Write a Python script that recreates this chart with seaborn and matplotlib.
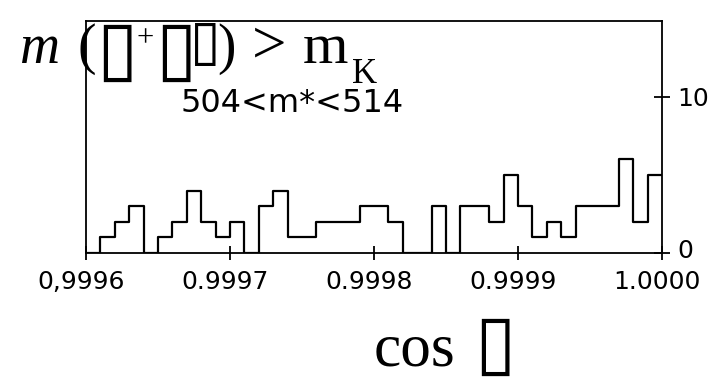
import numpy as np
import pandas as pd
import matplotlib
matplotlib.use("Agg")
import matplotlib.pyplot as plt
import seaborn as sns
from matplotlib.transforms import ScaledTranslation

# ---------------- data ----------------
counts = [0, 1, 2, 3, 0, 1, 2, 4, 2, 1,
          2, 0, 3, 4, 1, 1, 2, 2, 2, 3,
          3, 2, 0, 0, 3, 0, 3, 3, 2, 5,
          3, 1, 2, 1, 3, 3, 3, 6, 2, 5]
x_lo, x_hi = 0.9996, 1.0000
n_bins = 40
x_ticks = [0.9996, 0.9997, 0.9998, 0.9999, 1.0000]
x_tick_labels = ["0,9996", "0.9997", "0.9998", "0.9999", "1.0000"]
y_ticks = [0, 10]
y_tick_labels = ["0", "10"]
y_top = 14.87
cut_label = "504<m*<514"
# the reference shows empty boxes in place of these symbols
box = "\u25AF"

edges = np.linspace(x_lo, x_hi, n_bins + 1)
centers = (edges[:-1] + edges[1:]) / 2
df = pd.DataFrame({"cos": centers, "n": counts})

sns.set_theme(style="white")
plt.rcParams["font.family"] = ["DejaVu Sans"]
plt.rcParams["text.color"] = "black"

W, H = 719, 382
fig = plt.figure(figsize=(W / 100, H / 100), dpi=100)
fig.patch.set_facecolor("white")

def fx(x):
    return x / W

def fy(y):
    return 1 - y / H

ax = fig.add_axes([fx(86), fy(253), (662 - 86) / W, (253 - 21) / H])
sns.histplot(data=df, x="cos", weights="n", bins=n_bins, binrange=(x_lo, x_hi),
             element="step", fill=False, color="black", linewidth=1.6, ax=ax)
ax.set_xlim(x_lo, x_hi)
ax.set_ylim(0, y_top)
ax.set_xlabel("")
ax.set_ylabel("")
for s in ax.spines.values():
    s.set_visible(True)
    s.set_color("black")
    s.set_linewidth(1.3)

ax.set_xticks(x_ticks, x_tick_labels)
ax.tick_params(axis="x", direction="inout", length=10, width=1.3,
               labelsize=18, pad=7, colors="black", bottom=True)
for lab in ax.get_xticklabels():
    lab.set_transform(lab.get_transform() + ScaledTranslation(-5 / 100, 0, fig.dpi_scale_trans))

ax.yaxis.tick_right()
ax.set_yticks(y_ticks, y_tick_labels)
ax.tick_params(axis="y", direction="inout", length=12, width=1.3,
               labelsize=18, pad=5, colors="black", left=False, right=True)
for lab in ax.get_yticklabels():
    if lab.get_text() == "0":
        lab.set_transform(lab.get_transform() + ScaledTranslation(0, 5 / 100, fig.dpi_scale_trans))

fig.text(fx(292), fy(104), cut_label, fontsize=23, ha="center", va="center",
         family="DejaVu Sans", color="black")

# ---- title: m (▯+▯▯) > m_K ----
serif = ["Liberation Serif", "DejaVu Sans"]
base = 63
def t(x, y, s, size, fam=serif, **kw):
    fig.text(fx(x), fy(y), s, fontsize=size, family=fam, va="baseline",
             ha="left", color="black", **kw)

t(20, base, "m", 40, style="italic")
t(78, base, "(", 40)
t(96, 73, box, 54, fam=["DejaVu Sans"])
t(137, 46, "+", 22)
t(155, 73, box, 54, fam=["DejaVu Sans"])
t(190, 59, box, 40, fam=["DejaVu Sans"])
t(217, base, ")", 40)
t(252, base, ">", 44)
t(303, base, "m", 42)
t(352, 83, "K", 25)

# ---- x axis title: cos ▯ ----
t(374, 365, "cos", 44)
t(474, 367, box, 54, fam=["DejaVu Sans"])

fig.savefig("out.png", dpi=100, facecolor="white")
